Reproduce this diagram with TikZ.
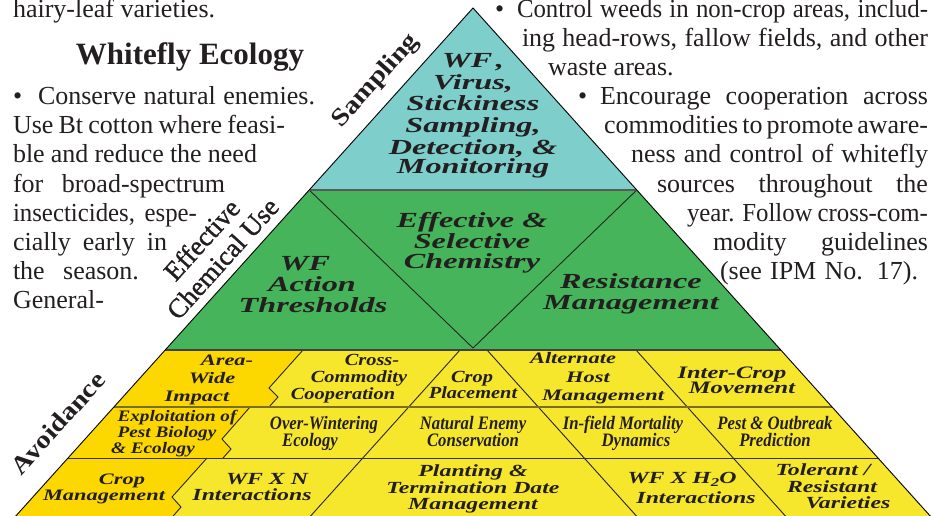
\documentclass[tikz,border=0pt]{standalone}
\usepackage{fontspec}
\setmainfont{Liberation Serif}
\newfontfamily\lblA[FakeStretch=1.5]{Liberation Serif}
\newfontfamily\lblB[FakeStretch=1.4]{Liberation Serif}
\newfontfamily\lblC[FakeStretch=1.2]{Liberation Serif}
\newfontfamily\lblD[FakeStretch=0.88]{Liberation Serif}
\newfontfamily\sidefnt[FakeStretch=1.15]{Liberation Serif}
\newfontfamily\ecufnt[FakeBold=1.2]{Liberation Serif}
\newfontfamily\bodysq[FakeStretch=0.955]{Liberation Serif}
\definecolor{cBlue}{RGB}{126,206,204}
\definecolor{cGreen}{RGB}{70,180,90}
\definecolor{cGold}{RGB}{253,216,0}
\definecolor{cYel}{RGB}{246,230,44}
\definecolor{cOlive}{RGB}{125,108,40}
\definecolor{cInk}{RGB}{35,31,32}
\newcommand\bodyfnt{\fontsize{26}{29}\selectfont\spaceskip=6.5pt plus 30pt minus 3pt\relax}
\newcommand\bodysqfnt{\bodysq\fontsize{26}{29}\selectfont\spaceskip=6pt plus 30pt minus 3pt\relax}
\tikzset{
  ink/.style={text=cInk, inner sep=0pt, outer sep=0pt},
  body/.style={ink, anchor=base west, font=\bodyfnt},
  bodytight/.style={ink, anchor=base west, font=\bodysqfnt},
  headline/.style={ink, anchor=base, font=\bfseries\fontsize{31}{31}\selectfont},
  sidelbl/.style={ink, rotate=48, font=\sidefnt\bfseries\fontsize{#1}{#1}\selectfont},
  sidelbl/.default=25,
  ecufont/.style={ink, rotate=48, align=center, font=\ecufnt\fontsize{27}{28}\selectfont},
  lA/.style={ink, anchor=base, font=\lblA\bfseries\itshape\fontsize{#1}{#1}\selectfont},
  lA/.default=21.5,
  lB/.style={ink, anchor=base, font=\lblB\bfseries\itshape\fontsize{#1}{#1}\selectfont},
  lB/.default=17,
  lC/.style={ink, anchor=base, font=\lblC\bfseries\itshape\fontsize{#1}{#1}\selectfont},
  lC/.default=17,
  lD/.style={ink, anchor=base, font=\lblD\bfseries\itshape\fontsize{#1}{#1}\selectfont},
  lD/.default=19,
  thinline/.style={line width=0.9pt, draw=black!85},
}
\begin{document}
\begin{tikzpicture}[x=1pt,y=-1pt]
\useasboundingbox (0,0) rectangle (933,515);
\begin{scope}
\clip (0,0) rectangle (933,515);
\coordinate (A) at (473,8);
\coordinate (BL) at (3.2,530);
\coordinate (BR) at (942.8,530);
\coordinate (L1) at (309.2,190);
\coordinate (R1) at (636.8,190);
\coordinate (L2) at (165.2,350);
\coordinate (R2) at (780.8,350);
\coordinate (L3) at (113.9,407);
\coordinate (R3) at (832.1,407);
\coordinate (L4) at (68,458);
\coordinate (R4) at (878,458);
\coordinate (M) at (473,348);
% fills
\fill[cBlue] (A) -- (L1) -- (R1) -- cycle;
\fill[cGreen] (L1) -- (R1) -- (R2) -- (L2) -- cycle;
\fill[cYel] (L2) -- (R2) -- (BR) -- (BL) -- cycle;
\fill[cGold] (L2) -- (303,350) -- (269,388) -- (278,397) -- (269,407) -- (L3) -- cycle;
\fill[cGold] (L3) -- (250,407) -- (222,439) -- (231,449) -- (223,458) -- (L4) -- cycle;
\fill[cGold] (L4) -- (207,458) -- (172,497) -- (181,507) -- (161,530) -- (BL) -- cycle;
% green inner lines
\draw[thinline] (L1) -- (M) -- (R1);
% yellow diagonals
\draw[thinline] (460,350) -- (298,530);
\draw[thinline] (487,350) -- (649,530);
\draw[thinline] (636,350) -- (798,530);
% chevrons
\draw[thinline] (303,350) -- (269,388) -- (278,397) -- (269,407);
\draw[thinline] (250,407) -- (222,439) -- (231,449) -- (223,458);
\draw[thinline] (207,458) -- (172,497) -- (181,507) -- (161,530);
% row lines
\draw[line width=2pt, cOlive] (L3) -- (R3);
\draw[line width=1pt, black!80] (L4) -- (R4);
% band boundaries
\draw[line width=1.8pt, black!65] (L1) -- (R1);
\draw[line width=1.5pt, black!75] (L2) -- (R2);
% outline
\draw[line width=0.9pt, black] (BL) -- (A) -- (BR);
\end{scope}
% ---------- surrounding text, left ----------
\node[body] (l0) at (13,17) {hairy-leaf varieties.};
\node[headline] (hd) at (190,64) {Whitefly Ecology};
\node[body] (lb1) at (13,104) {\textbullet};
\node[body] (l1) at (38,104) {\makebox[277pt][s]{Conserve natural enemies.}};
\node[body] (l2) at (13,133) {\makebox[272pt][s]{Use Bt cotton where feasi-}};
\node[body] (l3) at (13,162) {\makebox[244pt][s]{ble and reduce the need}};
\node[body] (l4) at (13,192) {\makebox[212pt][s]{for broad-spectrum}};
\node[bodytight] (l5) at (13,221) {\makebox[184pt][s]{insecticides, espe-}};
\node[body] (l6) at (13,250) {\makebox[154pt][s]{cially early in}};
\node[body] (l7) at (13,279) {\makebox[126pt][s]{the season.}};
\node[body] (l8) at (13,308) {General-};
% ---------- surrounding text, right ----------
\node[body] (rb1) at (495,17) {\textbullet};
\node[bodytight] (r1) at (517,17) {\makebox[411pt][s]{Control weeds in non-crop areas, includ-}};
\node[body] (r2) at (522,46) {\makebox[406pt][s]{ing head-rows, fallow fields, and other}};
\node[body] (r3) at (548,75) {waste areas.};
\node[body] (rb2) at (578,104) {\textbullet};
\node[body] (r4) at (600,104) {\makebox[328pt][s]{Encourage cooperation across}};
\node[body] (r5) at (604,133) {\makebox[324pt][s]{commodities to promote aware-}};
\node[body] (r6) at (631,162) {\makebox[297pt][s]{ness and control of whitefly}};
\node[body] (r7) at (657,192) {\makebox[271pt][s]{sources throughout the}};
\node[bodytight] (r8) at (687,221) {\makebox[241pt][s]{year. Follow cross-com-}};
\node[body] (r9) at (713,250) {\makebox[215pt][s]{modity guidelines}};
\node[body] (r10) at (720,279) {\makebox[198pt][s]{(see IPM No. 17).}};
% ---------- side labels ----------
\node[sidelbl] (samp) at (376,81) {Sampling};
\node[ecufont] (ecu) at (212,249) {Effective\\Chemical Use};
\node[sidelbl] (avd) at (58,423) {Avoidance};
% ---------- blue ----------
\node[lA] (b1) at (473,67) {WF\,,};
\node[lA] (b2) at (473,89) {Virus,};
\node[lA] (b3) at (473,110) {Stickiness};
\node[lA] (b4) at (473,132) {Sampling,};
\node[lA] (b5) at (473,154) {Detection, \&};
\node[lA] (b6) at (473,173) {Monitoring};
% ---------- green ----------
\node[lA] (g1) at (472,227) {Effective \&};
\node[lA] (g2) at (472,248) {Selective};
\node[lA] (g3) at (472,268) {Chemistry};
\node[lA] (t1) at (305,270) {WF};
\node[lA] (t2) at (312,291) {Action};
\node[lA] (t3) at (313,312) {Thresholds};
\node[lA] (m1) at (631,288) {Resistance};
\node[lA] (m2) at (631,309) {Management};
% ---------- row 1 ----------
\node[lB=16] (aw1) at (227,365) {Area-};
\node[lB=16] (aw2) at (212,383) {Wide};
\node[lB=16] (aw3) at (197,401) {Impact};
\node[lC] (cc1) at (372,365) {Cross-};
\node[lC] (cc2) at (359,382) {Commodity};
\node[lC] (cc3) at (343,399) {Cooperation};
\node[lC] (cp1) at (472,382) {Crop};
\node[lC] (cp2) at (473,398) {Placement};
\node[lB=16] (ah1) at (573,363) {Alternate};
\node[lB=16] (ah2) at (588,382) {Host};
\node[lB=16] (ah3) at (603,400) {Management};
\node[lB=17.5] (ic1) at (732,378) {Inter-Crop};
\node[lB=17.5] (ic2) at (742,393) {Movement};
% ---------- row 2 ----------
\node[lC=16] (ex1) at (177,421) {Exploitation of};
\node[lC=16] (ex2) at (167,437) {Pest Biology};
\node[lC=16] (ex3) at (153,453) {\& Ecology};
\node[lD] (ow1) at (324,429) {Over-Wintering};
\node[lD] (ow2) at (310,446) {Ecology};
\node[lD] (ne1) at (473,429) {Natural Enemy};
\node[lD] (ne2) at (473,446) {Conservation};
\node[lD] (im1) at (623,429) {In-field Mortality};
\node[lD] (im2) at (636,446) {Dynamics};
\node[lD] (po1) at (775,429) {Pest \& Outbreak};
\node[lD] (po2) at (775,446) {Prediction};
% ---------- row 3 ----------
\node[lB=16] (cm1) at (122,484) {Crop};
\node[lB=16] (cm2) at (104,500) {Management};
\node[lB] (wn1) at (267,484) {WF X N};
\node[lB] (wn2) at (252,500) {Interactions};
\node[lB] (pt1) at (473,476) {Planting \&};
\node[lB] (pt2) at (473,493) {Termination Date};
\node[lB] (pt3) at (473,509) {Management};
\node[lB] (wh1) at (682,483) {WF X H\raisebox{-3pt}{\fontsize{12}{12}\selectfont 2}O};
\node[lB] (wh2) at (696,503) {Interactions};
\node[lB] (tr1) at (823,475) {Tolerant /};
\node[lB] (tr2) at (832,492) {Resistant};
\node[lB] (tr3) at (848,508) {Varieties};
\end{tikzpicture}
\end{document}
